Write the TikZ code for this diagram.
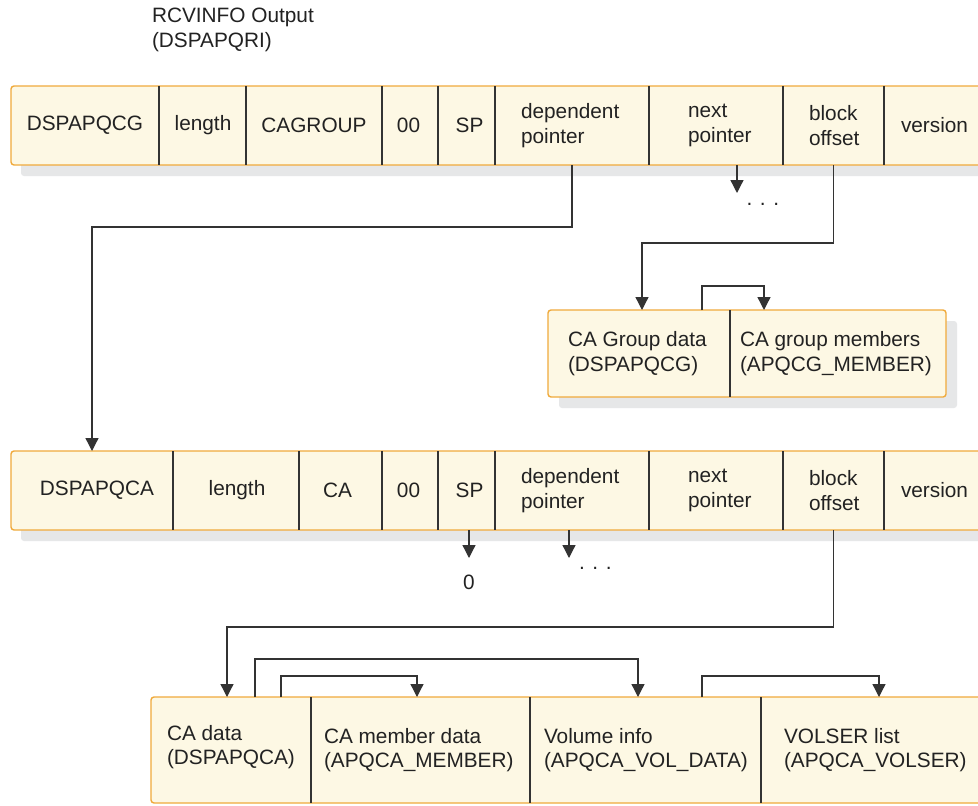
\documentclass[tikz,border=0pt]{standalone}
\usepackage{fontspec}
\setmainfont{Liberation Sans}
\usetikzlibrary{arrows.meta,calc}
\definecolor{cellfill}{HTML}{FDF8E4}
\definecolor{cellborder}{HTML}{F0AA3C}
\definecolor{shadowgray}{HTML}{E6E7E8}
\definecolor{linecol}{HTML}{333333}
\definecolor{txtcol}{HTML}{222222}
\begin{document}
\begin{tikzpicture}[x=1pt,y=-1pt,
  box/.style={fill=cellfill, draw=cellborder, line width=1.4pt, rounded corners=3pt},
  shade/.style={fill=shadowgray, rounded corners=3pt},
  cell/.style={draw=none, inner sep=0pt, outer sep=0pt, rectangle, anchor=north west},
  divider/.style={draw=linecol, line width=1.1pt},
  lbl/.style={inner sep=0pt, outer sep=0pt, text=txtcol, font=\fontsize{20.8}{24.5}\selectfont, align=left},
  conn/.style={draw=linecol, line width=1.3pt},
  arr/.style={conn, -{Triangle[width=13pt,length=13pt]}}
]
\clip (0,0) rectangle (978,806);
\fill[white] (0,0) rectangle (978,806);

% title
\node[lbl, anchor=north west] (title) at (152,8) {RCVINFO Output\\(DSPAPQRI)};

% ---------- top bar ----------
\foreach \n/\a/\b in {t1/11/159,t2/159/246,t3/246/382,t4/382/438,t5/438/495,t6/495/649,t7/649/783,t8/783/884,t9/884/1000}
  \node[cell, minimum width={(\b-\a)*1pt}, minimum height=79pt] (\n) at (\a,86) {};
\path[shade] (21,96) rectangle (1010,176);
\path[box] (t1.north west) rectangle (t9.south east);
\foreach \n in {t1,t2,t3,t4,t5,t6,t7,t8}
  \draw[divider] (\n.north east) -- (\n.south east);
\node[lbl] (t1l) at (t1.center) {DSPAPQCG};
\node[lbl] (t2l) at ([xshift=0.5pt]t2.center) {length};
\node[lbl] (t3l) at (t3.center) {CAGROUP};
\node[lbl] (t4l) at ([xshift=-1.5pt]t4.center) {00};
\node[lbl] (t5l) at ([xshift=3pt]t5.center) {SP};
\node[lbl, anchor=west] (t6l) at ([xshift=26pt]t6.west) {dependent\\pointer};
\node[lbl, anchor=west] (t7l) at ([xshift=39pt]t7.west) {next\\pointer};
\node[lbl, anchor=west] (t8l) at ([xshift=26pt]t8.west) {block\\offset};
\node[lbl, anchor=west] (t9l) at ([xshift=17pt]t9.west) {version};

% ---------- CA group box ----------
\node[cell, minimum width=182pt, minimum height=87pt] (g1) at (548,310) {};
\node[cell, minimum width=216pt, minimum height=87pt] (g2) at (730,310) {};
\path[shade] (559,321) rectangle (957,408);
\path[box] (g1.north west) rectangle (g2.south east);
\draw[divider] (g1.north east) -- (g1.south east);
\node[lbl, anchor=west] (g1l) at ([xshift=20pt]g1.west) {CA Group data\\(DSPAPQCG)};
\node[lbl, anchor=west] (g2l) at ([xshift=10pt]g2.west) {CA group members\\(APQCG\_MEMBER)};

% ---------- second bar ----------
\foreach \n/\a/\b in {a1/11/173,a2/173/299,a3/299/382,a4/382/438,a5/438/495,a6/495/649,a7/649/783,a8/783/884,a9/884/1000}
  \node[cell, minimum width={(\b-\a)*1pt}, minimum height=79pt] (\n) at (\a,451) {};
\path[shade] (21,461) rectangle (1010,541);
\path[box] (a1.north west) rectangle (a9.south east);
\foreach \n in {a1,a2,a3,a4,a5,a6,a7,a8}
  \draw[divider] (\n.north east) -- (\n.south east);
\node[lbl] (a1l) at ([xshift=5pt]a1.center) {DSPAPQCA};
\node[lbl] (a2l) at ([xshift=1pt]a2.center) {length};
\node[lbl] (a3l) at ([xshift=-3pt]a3.center) {CA};
\node[lbl] (a4l) at ([xshift=-1.5pt]a4.center) {00};
\node[lbl] (a5l) at ([xshift=3pt]a5.center) {SP};
\node[lbl, anchor=west] (a6l) at ([xshift=26pt]a6.west) {dependent\\pointer};
\node[lbl, anchor=west] (a7l) at ([xshift=39pt]a7.west) {next\\pointer};
\node[lbl, anchor=west] (a8l) at ([xshift=26pt]a8.west) {block\\offset};
\node[lbl, anchor=west] (a9l) at ([xshift=17pt]a9.west) {version};

% ---------- bottom box ----------
\foreach \n/\a/\b in {b1/151/311,b2/311/530,b3/530/761,b4/761/1000}
  \node[cell, minimum width={(\b-\a)*1pt}, minimum height=106pt] (\n) at (\a,697) {};
\path[box] (b1.north west) rectangle (b4.south east);
\foreach \n in {b1,b2,b3}
  \draw[divider] (\n.north east) -- (\n.south east);
\node[lbl, anchor=west] (b1l) at ($(b1.west)+(16,-3)$) {CA data\\(DSPAPQCA)};
\node[lbl, anchor=west] (b2l) at ($(b2.west)+(13,0)$) {CA member data\\(APQCA\_MEMBER)};
\node[lbl, anchor=west] (b3l) at ($(b3.west)+(14,0)$) {Volume info\\(APQCA\_VOL\_DATA)};
\node[lbl, anchor=west] (b4l) at ($(b4.west)+(23,0)$) {VOLSER list\\(APQCA\_VOLSER)};

% ---------- connectors ----------
\draw[arr] (t6.south) -- ++(0,62) -| (a1.north);
\draw[arr] ([xshift=21pt]t7.south) -- ++(0,28) coordinate (tn);
\node[lbl, anchor=base west] (tdots) at ($(tn)+(9.5,12)$) {. . .};
\draw[arr] (t8.south) -- ++(0,78) -| ([xshift=3pt]g1.north);
\draw[arr] ([xshift=-28pt]g1.north east) -- ++(0,-24) -| ([xshift=34pt]g2.north west);

\draw[arr] ([xshift=2.5pt]a5.south) -- ++(0,28) coordinate (a5end);
\node[lbl] (zero) at ($(a5end)+(0,24)$) {0};
\draw[arr] ([xshift=-3pt]a6.south) -- ++(0,28) coordinate (a6end);
\node[lbl, anchor=base west] (adots) at ($(a6end)+(10,11)$) {. . .};
\draw[arr] (a8.south) -- ++(0,97) -| ([xshift=-4pt]b1.north);

\draw[arr] ([xshift=104pt]b1.north west) -- ++(0,-38) -| ([xshift=-7.5pt]b3.north);
\draw[arr] ([xshift=130pt]b1.north west) -- ++(0,-21) -| ([xshift=-3.5pt]b2.north);
\draw[arr] ([xshift=-59pt]b3.north east) -- ++(0,-21) -| ([xshift=118pt]b4.north west);
\end{tikzpicture}
\end{document}
